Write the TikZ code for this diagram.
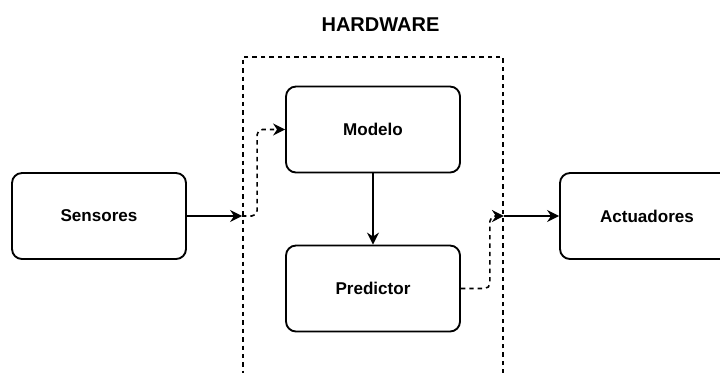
\documentclass[tikz,border=0pt]{standalone}
\usepackage{fontspec}
\setmainfont{Liberation Sans}
\usetikzlibrary{arrows.meta,calc}
\begin{document}
\begin{tikzpicture}[x=0.75pt,y=-0.75pt,
  block/.style={draw,line width=1.4pt,rounded corners=7.5pt,
    minimum width=130.5pt,minimum height=64.5pt,inner sep=0pt,
    font=\fontsize{12.8}{15}\selectfont\bfseries},
  frame/.style={draw,line width=1.4pt,dash pattern=on 3.3pt off 3pt,
    minimum width=195pt,minimum height=237.8pt,inner sep=0pt},
  link/.style={line width=1.2pt,-{Stealth[length=9pt,width=9pt,inset=3pt]}},
  dlink/.style={link,dash pattern=on 3.3pt off 3pt,rounded corners=4pt}]
\useasboundingbox (0,0) rectangle (720,372);
\clip (0,0) rectangle (720,372);
% hardware boundary (its lower edge runs off the page)
\node[frame] (hw) at (373,215.5) {};
\node[font=\fontsize{15}{18}\selectfont\bfseries] (title) at (380.5,24.5) {HARDWARE};
% blocks
\node[block] (sens) at (99,216) {Sensores};
\node[block] (mod)  at (373,129.5) {Modelo};
\node[block] (pred) at (373,288.5) {Predictor};
\node[block] (act)  at (647,216) {Actuadores};
% connectors
\coordinate (in)  at (sens -| hw.west);
\coordinate (out) at (act -| hw.east);
\draw[link] (sens.east) -- (in);
\draw[dlink] (in) -- ++(15,0) |- (mod.west);
\draw[link] (mod.south) -- (pred.north);
\draw[dlink] (pred.east) -- ++(29,0) |- (out);
\draw[link] (out) -- (act.west);
\end{tikzpicture}
\end{document}
